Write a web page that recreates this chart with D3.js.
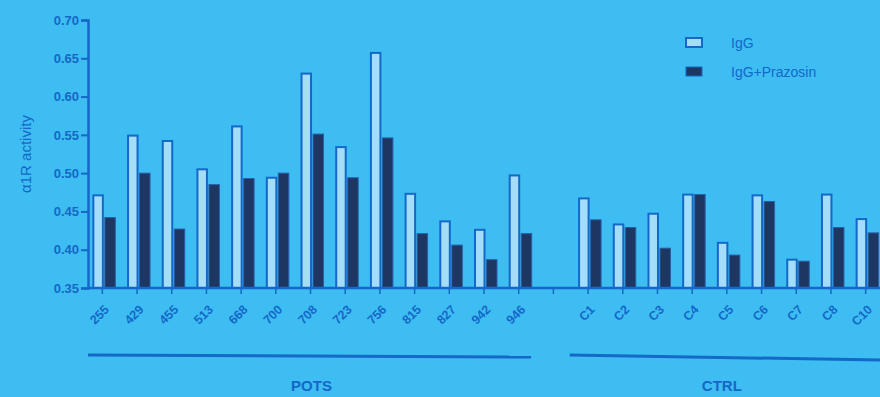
<!DOCTYPE html>
<html>
<head>
<meta charset="utf-8">
<script src="https://cdn.jsdelivr.net/npm/d3@7"></script>
<style>
  body { margin: 0; background: #3dbdf2; }
  #chart { width: 880px; height: 397px; }
  text { font-family: "Liberation Sans", Arial, sans-serif; fill: #1468c8; }
</style>
</head>
<body>
<div id="chart"></div>
<script>
// subjects (empty slot separates the two groups)
const subjects = ["255","429","455","513","668","700","708","723","756","815","827","942","946",
                  "",
                  "C1","C2","C3","C4","C5","C6","C7","C8","C10"];
const igg = [0.471,0.549,0.542,0.505,0.561,0.494,0.630,0.534,0.657,0.473,0.437,0.426,0.497,
             null,
             0.467,0.433,0.447,0.472,0.409,0.471,0.387,0.472,0.440];
const iggPrazosin = [0.442,0.500,0.427,0.485,0.493,0.500,0.551,0.494,0.546,0.421,0.406,0.387,0.421,
                     null,
                     0.439,0.429,0.402,0.472,0.393,0.463,0.385,0.429,0.422];
const yTicks = [0.35,0.40,0.45,0.50,0.55,0.60,0.65,0.70];
const groups = [
  {name: "POTS", first: "255", last: "946"},
  {name: "CTRL", first: "C1", last: "C10"}
];
const legendLabels = ["IgG", "IgG+Prazosin"];

const W = 880, H = 397;
const axisCol = "#1468c8", openFill = "#a4ddf7", darkFill = "#1d3762";

var svg = d3.select("#chart").append("svg")
    .attr("width", W)
    .attr("height", H);

svg.append("rect").attr("width", W).attr("height", H).attr("fill", "#3dbdf2");

var x = d3.scaleBand()
    .domain(subjects.map(function(d, i) { return i; }))
    .range([85, 883]);

var y = d3.scaleLinear()
    .domain([0.35, 0.70])
    .range([288, 20]);

var barW = 10.5;

// bars
subjects.forEach(function(s, i) {
  if (s === "") return;
  var cx = x(i) + x.bandwidth() / 2 + 2;
  svg.append("rect")
    .attr("x", cx - barW - 0.5)
    .attr("y", y(igg[i]))
    .attr("width", barW - 1)
    .attr("height", y(0.35) - y(igg[i]))
    .attr("fill", openFill)
    .attr("stroke", axisCol)
    .attr("stroke-width", 2);
  svg.append("rect")
    .attr("x", cx + 0.5)
    .attr("y", y(iggPrazosin[i]))
    .attr("width", barW)
    .attr("height", y(0.35) - y(iggPrazosin[i]))
    .attr("fill", darkFill)
    .attr("stroke", "#2a5fa8")
    .attr("stroke-width", 1);
});

// y axis
var yAxis = svg.append("g")
    .attr("transform", "translate(88,0)")
    .call(d3.axisLeft(y).tickValues(yTicks).tickFormat(d3.format(".2f")).tickSize(7));
yAxis.select(".domain").attr("stroke", axisCol).attr("stroke-width", 2.5);
yAxis.selectAll(".tick line").attr("stroke", axisCol).attr("stroke-width", 2);
yAxis.selectAll(".tick text")
    .attr("x", -9)
    .style("font-size", "13px")
    .style("font-weight", "bold")
    .attr("fill", axisCol);

// x axis
var xAxis = svg.append("g")
    .attr("transform", "translate(0,288)")
    .call(d3.axisBottom(x).tickSize(6).tickSizeOuter(0).tickFormat(function(i) { return subjects[i]; }));
xAxis.select(".domain").attr("stroke", axisCol).attr("stroke-width", 2.5)
    .attr("d", "M88,0H880");
xAxis.selectAll(".tick line").attr("stroke", axisCol).attr("stroke-width", 1.5);
xAxis.selectAll(".tick text")
    .attr("fill", axisCol)
    .style("font-size", "12.5px")
    .style("font-weight", "bold")
    .attr("text-anchor", "end")
    .attr("dy", null)
    .attr("transform", "translate(1,16) rotate(-45)");

// y title
svg.append("text")
    .attr("transform", "translate(31,154) rotate(-90)")
    .attr("text-anchor", "middle")
    .style("font-size", "15px")
    .text("\u03b11R activity");

// group brackets
groups.forEach(function(g, k) {
  var i0 = subjects.indexOf(g.first), i1 = subjects.indexOf(g.last);
  var x0 = k === 0 ? 88 : x(i0) - 1;
  var x1 = k === 0 ? x(i1) + x.bandwidth() - 5 : W;
  svg.append("line")
    .attr("x1", x0).attr("x2", x1)
    .attr("y1", 355).attr("y2", 357 + k * 3)
    .attr("stroke", axisCol)
    .attr("stroke-width", 3);
  var cx = k === 0 ? (x0 + x1) / 2 + 2 : x(subjects.indexOf("C5")) + x.bandwidth() / 2 - 5;
  svg.append("text")
    .attr("x", cx)
    .attr("y", 391)
    .attr("text-anchor", "middle")
    .style("font-size", "15px")
    .style("font-weight", "bold")
    .text(g.name);
});

// legend
var legend = svg.append("g").attr("transform", "translate(686,38)");
legendLabels.forEach(function(l, i) {
  legend.append("rect")
    .attr("x", 0).attr("y", i * 29)
    .attr("width", 16).attr("height", 9)
    .attr("fill", i === 0 ? openFill : darkFill)
    .attr("stroke", axisCol)
    .attr("stroke-width", i === 0 ? 2 : 1);
  legend.append("text")
    .attr("x", 45).attr("y", i * 29 + 10)
    .style("font-size", "14px")
    .text(l);
});
</script>
</body>
</html>
